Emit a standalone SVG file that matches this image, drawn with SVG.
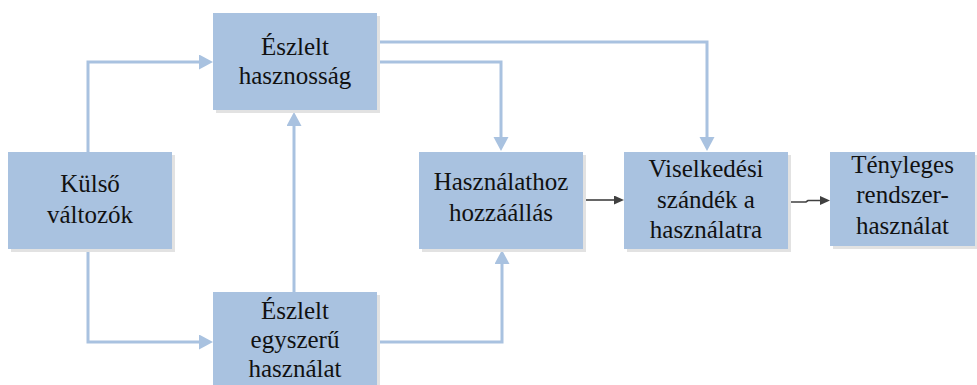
<svg xmlns="http://www.w3.org/2000/svg" width="977" height="385" viewBox="0 0 977 385">
<defs>
<marker id="ab" markerUnits="userSpaceOnUse" markerWidth="15" markerHeight="16" refX="0" refY="7.5" orient="auto"><path d="M0,0 L14,7.5 L0,15 z" fill="#a9c2e0"/></marker>
<marker id="ad" markerUnits="userSpaceOnUse" markerWidth="11" markerHeight="10" refX="0" refY="4.5" orient="auto"><path d="M0,0 L10,4.5 L0,9 z" fill="#404040"/></marker>
</defs>
<style>
.box{fill:#a9c2e0}
.sh{fill:#e2e2e2}
.t{font-family:"Liberation Serif","Times New Roman",serif;font-size:25px;fill:#111;text-anchor:middle}
.cb{fill:none;stroke:#a9c2e0;stroke-width:3;marker-end:url(#ab)}
.cd{fill:none;stroke:#404040;stroke-width:1.6;marker-end:url(#ad)}
</style>
<rect width="977" height="385" fill="#fff"/>
<g id="connectors">
<path class="cb" d="M88,152 V62 H199"/>
<path class="cb" d="M88,249 V342 H199"/>
<path class="cb" d="M294,292 V126"/>
<path class="cb" d="M377,62 H501 V137"/>
<path class="cb" d="M377,42 H707 V137"/>
<path class="cb" d="M377,342 H502 V264"/>
<path class="cd" d="M583,200 H614"/>
<path class="cd" d="M788,202 H806 L808,200.5 H820"/>
</g>
<g id="kulso">
<rect class="sh" x="11" y="155" width="164" height="97"/>
<rect class="box" x="8" y="152" width="164" height="97"/>
<text class="t" x="90" y="192">Külső</text>
<text class="t" x="90" y="223">változók</text>
</g>
<g id="hasznossag">
<rect class="sh" x="216" y="16" width="164" height="97"/>
<rect class="box" x="213" y="13" width="164" height="97"/>
<text class="t" x="295" y="55">Észlelt</text>
<text class="t" x="295" y="84">hasznosság</text>
</g>
<g id="egyszeru">
<rect class="sh" x="216" y="295" width="164" height="97"/>
<rect class="box" x="213" y="292" width="164" height="97"/>
<text class="t" x="295" y="319">Észlelt</text>
<text class="t" x="295" y="348">egyszerű</text>
<text class="t" x="295" y="377">használat</text>
</g>
<g id="hozzaallas">
<rect class="sh" x="422" y="155" width="164" height="97"/>
<rect class="box" x="419" y="152" width="164" height="97"/>
<text class="t" x="501" y="190">Használathoz</text>
<text class="t" x="501" y="221">hozzáállás</text>
</g>
<g id="szandek">
<rect class="sh" x="627" y="155" width="164" height="97"/>
<rect class="box" x="624" y="152" width="164" height="97"/>
<text class="t" x="706" y="177">Viselkedési</text>
<text class="t" x="706" y="208">szándék a</text>
<text class="t" x="706" y="238">használatra</text>
</g>
<g id="tenyleges">
<rect class="sh" x="833" y="155" width="145" height="94"/>
<rect class="box" x="830" y="152" width="145" height="94"/>
<text class="t" x="902.5" y="173">Tényleges</text>
<text class="t" x="902.5" y="203">rendszer-</text>
<text class="t" x="902.5" y="234">használat</text>
</g>
</svg>
